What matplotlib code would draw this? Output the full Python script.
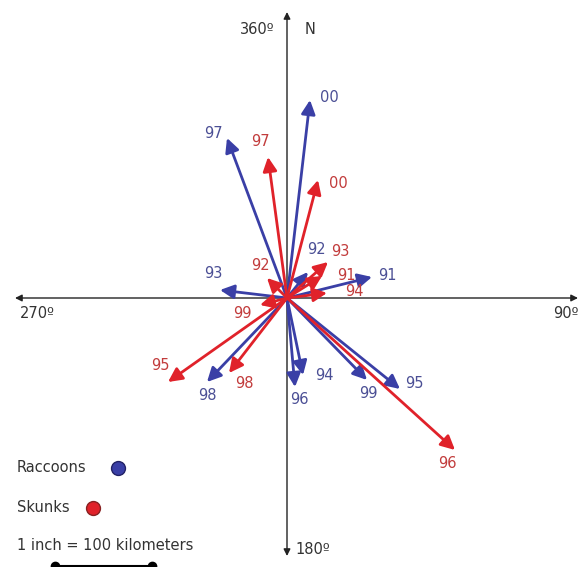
import matplotlib
matplotlib.use('Agg')
import matplotlib.pyplot as plt

plt.rcParams['font.family'] = ['DejaVu Sans']

# displacement vectors (east, north), roughly km (1 inch ~ 100 km)
years = ['00', '97', '93', '92', '91', '94', '96', '95', '99', '98']
raccoon_east = [23, -60, -67, 21, 85, 16, 8, 113, 80, -80]
raccoon_north = [198, 160, 8, 26, 21, -77, -89, -91, -82, -84]
skunk_east = [31, -19, 41, -20, 35, 40, -27, -119, -58, 168]
skunk_north = [118, 141, 36, 20, 22, 5, -7, -84, -75, -152]
skunk_years = ['00', '97', '93', '92', '91', '94', '99', '95', '98', '96']

# label offsets from arrow tip (pixels)
raccoon_lab = {'00': (19, 3), '97': (-14, 4), '93': (-7, 16), '92': (8, 23), '91': (15, 2),
               '94': (21, -1), '96': (4, -13), '95': (14, 5), '99': (1, -13), '98': (0, -13)}
skunk_lab = {'00': (20, -4), '97': (-8, 15), '93': (12, 11), '92': (-7, 12), '91': (24, 0),
             '94': (27, 1), '99': (-18, -8), '95': (-8, 16), '98': (15, -10), '96': (-8, -13)}

BLUE = '#3a3fa6'
RED = '#e0222a'
BLUE_T = '#4b4f95'
RED_T = '#c23c3c'
TXT = '#333333'
FS = 10.5

fig = plt.figure(figsize=(5.81, 5.67), dpi=100)
ax = fig.add_axes([0, 0, 1, 1])
ax.set_xlim(-287, 294)
ax.set_ylim(-269, 298)
ax.axis('off')

# compass axes
ax_kw = dict(arrowstyle='<|-|>', color='#222222', lw=1.0, mutation_scale=10, shrinkA=0, shrinkB=0)
ax.annotate('', xy=(0, 286), xytext=(0, -258), arrowprops=ax_kw)
ax.annotate('', xy=(291, 0), xytext=(-272, 0), arrowprops=ax_kw)

ax.text(-12, 268, '360º', ha='right', va='center', fontsize=FS, color=TXT)
ax.text(18, 268, 'N', ha='left', va='center', fontsize=FS, color=TXT)
ax.text(-267, -15, '270º', ha='left', va='center', fontsize=FS, color=TXT)
ax.text(292, -15, '90º', ha='right', va='center', fontsize=FS, color=TXT)
ax.text(8, -251, '180º', ha='left', va='center', fontsize=FS, color=TXT)


def draw_set(east, north, labels, offsets, color, tcolor):
    for e, n, lab in zip(east, north, labels):
        ax.annotate('', xy=(e, n), xytext=(0, 0),
                    arrowprops=dict(arrowstyle='-|>,head_length=0.6,head_width=0.3', color=color,
                                    lw=2.0, mutation_scale=14, shrinkA=0, shrinkB=0))
        ox, oy = offsets[lab]
        ax.text(e + ox, n + oy, lab, ha='center', va='center', fontsize=FS, color=tcolor)


draw_set(raccoon_east, raccoon_north, years, raccoon_lab, BLUE, BLUE_T)
draw_set(skunk_east, skunk_north, skunk_years, skunk_lab, RED, RED_T)

# legend
ax.text(-270, -170, 'Raccoons', ha='left', va='center', fontsize=FS, color=TXT)
ax.plot([-169], [-170], 'o', ms=10, color=BLUE, mec='#222266')
ax.text(-270, -210, 'Skunks', ha='left', va='center', fontsize=FS, color=TXT)
ax.plot([-194], [-210], 'o', ms=10, color=RED, mec='#882222')
ax.text(-270, -248, '1 inch = 100 kilometers', ha='left', va='center', fontsize=FS, color=TXT)
ax.plot([-232, -135], [-268, -268], '-o', color='black', lw=1.5, ms=6, clip_on=False)

fig.savefig('out.png', dpi=100)
